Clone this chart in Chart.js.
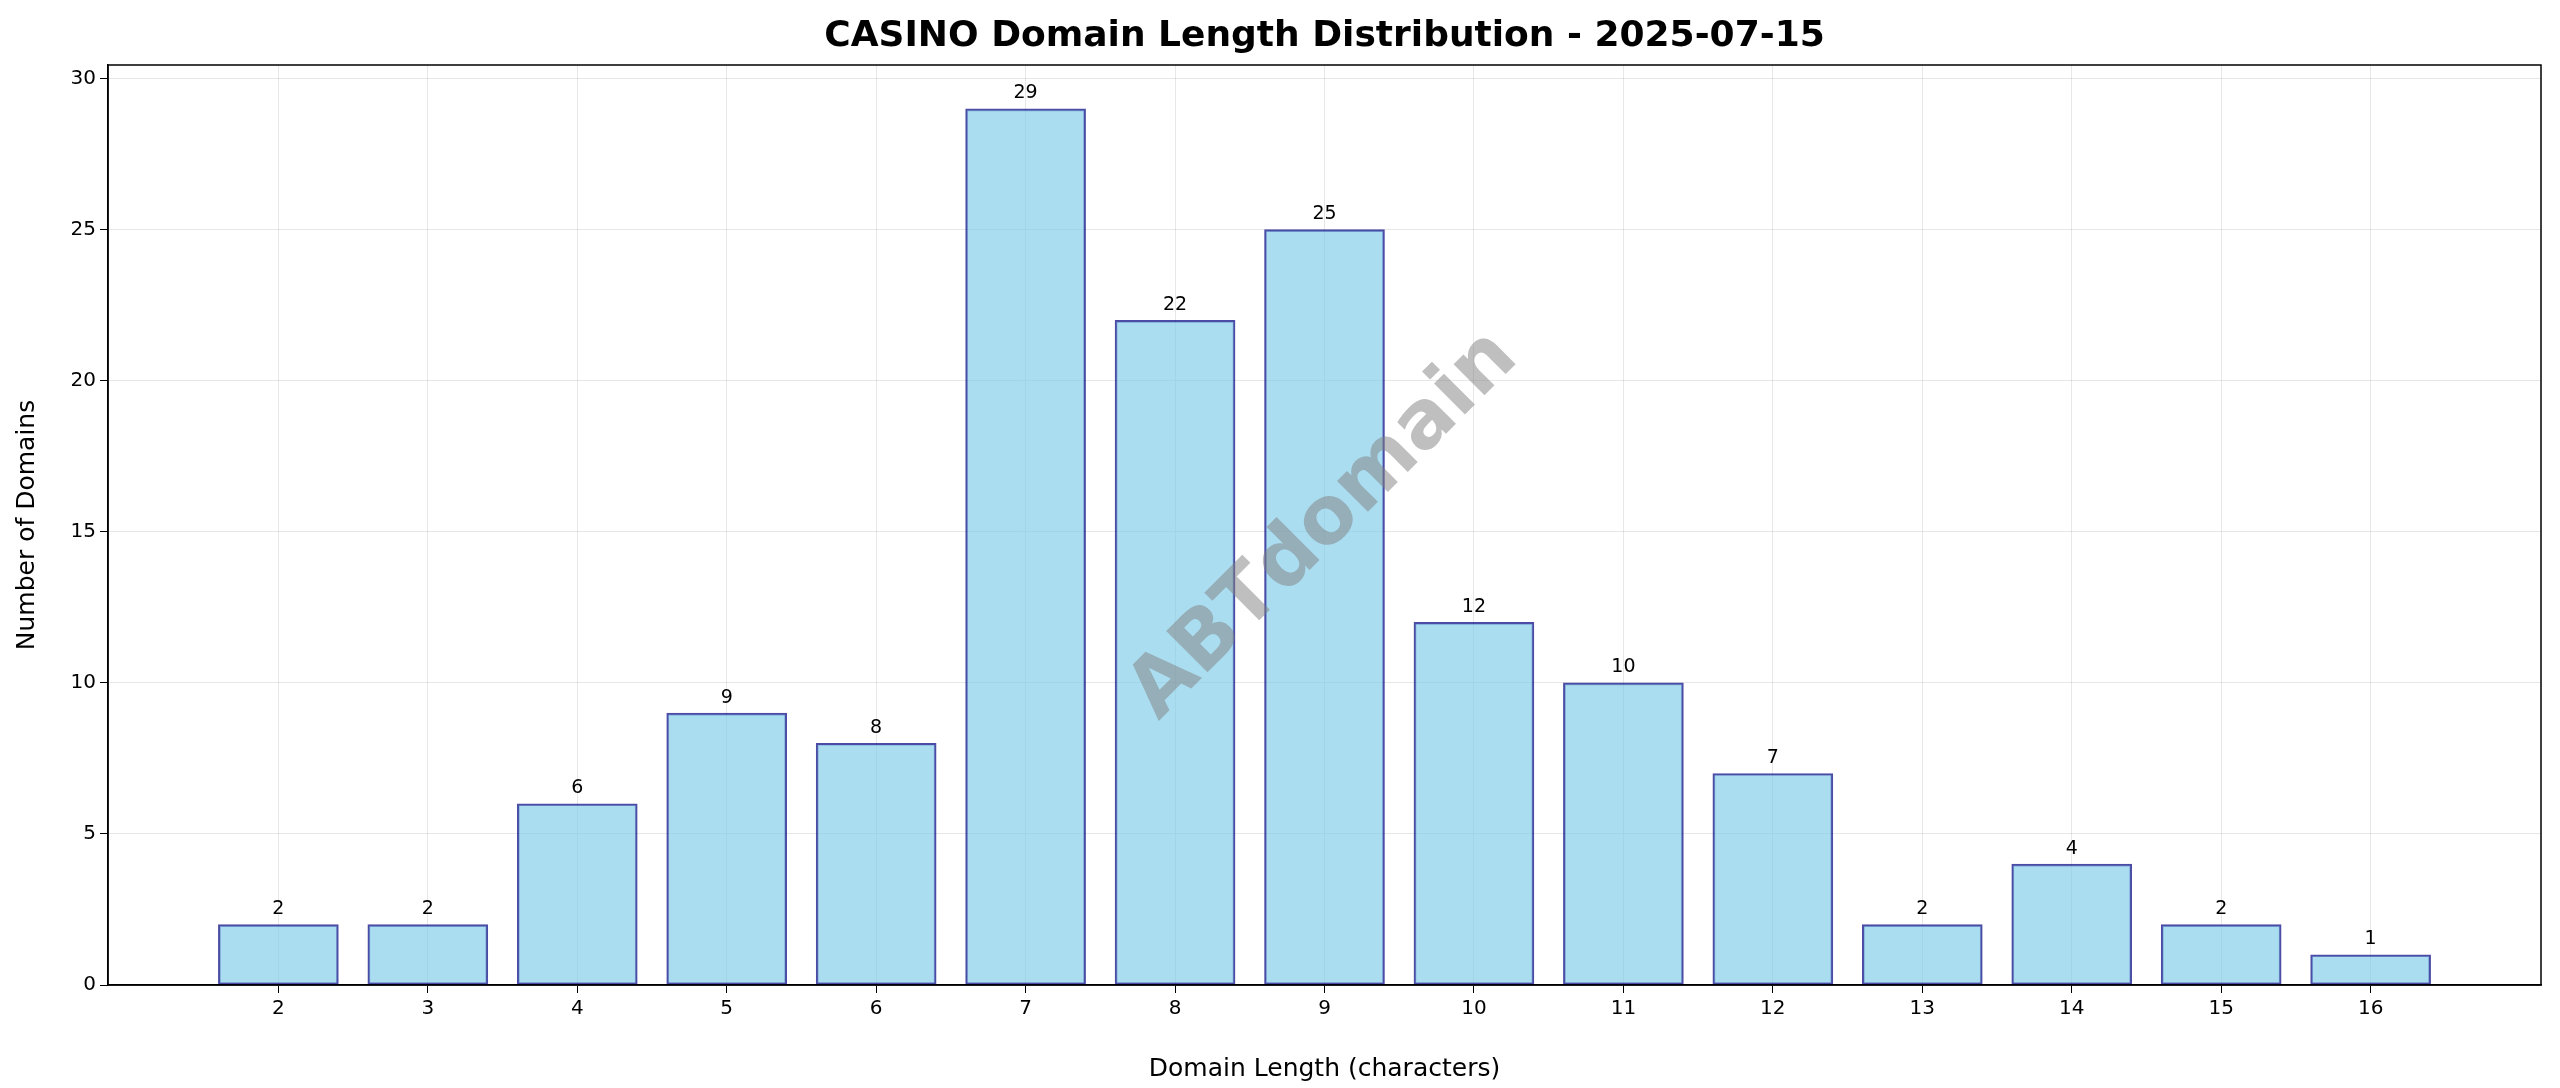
<!DOCTYPE html>
<html><head><meta charset="utf-8">
<script src="https://cdn.jsdelivr.net/npm/chart.js@4"></script>
<style>html,body{margin:0;padding:0;background:#fff}#w{width:2560px;height:1088px}</style>
</head><body><div id="w"><canvas id="c"></canvas></div>
<script>
const lengths = [2,3,4,5,6,7,8,9,10,11,12,13,14,15,16];
const counts = [2,2,6,9,8,29,22,25,12,10,7,2,4,2,1];
const yTicks = [0,5,10,15,20,25,30];
const title = 'CASINO Domain Length Distribution - 2025-07-15';

const overlay = {
  id:'overlay',
  afterDatasetsDraw(chart){
    const {ctx, chartArea:a, scales:{x,y}} = chart;
    ctx.save();
    ctx.fillStyle='#000';
    ctx.font='19px "DejaVu Sans"';
    ctx.textAlign='center'; ctx.textBaseline='bottom';
    lengths.forEach((l,i)=>{ ctx.fillText(String(counts[i]), x.getPixelForValue(l), y.getPixelForValue(counts[i])-6); });
    ctx.font='bold 36px "DejaVu Sans"';
    ctx.textBaseline='middle';
    ctx.fillText(title,(a.left+a.right)/2,37);
    ctx.translate(x.getPixelForValue(9.0), y.getPixelForValue(15.2));
    ctx.rotate(-Math.PI/4);
    ctx.font='bold 80px "DejaVu Sans"';
    ctx.fillStyle='rgba(128,128,128,0.5)';
    ctx.fillText('ABTdomain',0,0);
    ctx.restore();
  }
};

new Chart(document.getElementById('c'),{
  type:'bar',
  data:{datasets:[{data:lengths.map((l,i)=>({x:l,y:counts[i]})),
    backgroundColor:'rgba(135,206,235,0.7)',borderColor:'rgba(0,0,128,0.7)',borderWidth:2,barThickness:120,borderSkipped:false}]},
  options:{responsive:true,maintainAspectRatio:false,animation:false,
    layout:{padding:{top:65,right:19,left:8,bottom:0}},
    plugins:{legend:{display:false},tooltip:{enabled:false}},
    scales:{
      x:{type:'linear',min:0.86,max:17.14,offset:false,
        afterFit(s){s.height=103;},
        afterBuildTicks(s){s.ticks=lengths.map(v=>({value:v}));},
        ticks:{color:'#000',font:{size:20,family:'DejaVu Sans'},autoSkip:false,maxRotation:0,padding:4},
        grid:{offset:false,color:'rgba(176,176,176,0.3)',tickColor:'#000',tickLength:8},
        border:{color:'#000',width:1.5},
        title:{display:true,text:'Domain Length (characters)',color:'#000',font:{size:25,family:'DejaVu Sans'},padding:{top:2}}},
      y:{min:0,max:30.45,
        afterFit(s){s.width=100;},
        afterBuildTicks(s){s.ticks=yTicks.map(v=>({value:v}));},
        ticks:{color:'#000',font:{size:20,family:'DejaVu Sans'},padding:4},
        grid:{color:'rgba(176,176,176,0.3)',tickColor:'#000',tickLength:8},
        border:{color:'#000',width:1.5},
        title:{display:true,text:'Number of Domains',color:'#000',font:{size:25,family:'DejaVu Sans'},padding:{bottom:2}}}
    }},
  plugins:[overlay,{id:'frame',afterDraw(chart){const {ctx,chartArea:a}=chart;ctx.save();ctx.strokeStyle='#000';ctx.lineWidth=1.5;ctx.strokeRect(a.left,a.top,a.right-a.left,a.bottom-a.top);ctx.restore();}}]
});
</script></body></html>
